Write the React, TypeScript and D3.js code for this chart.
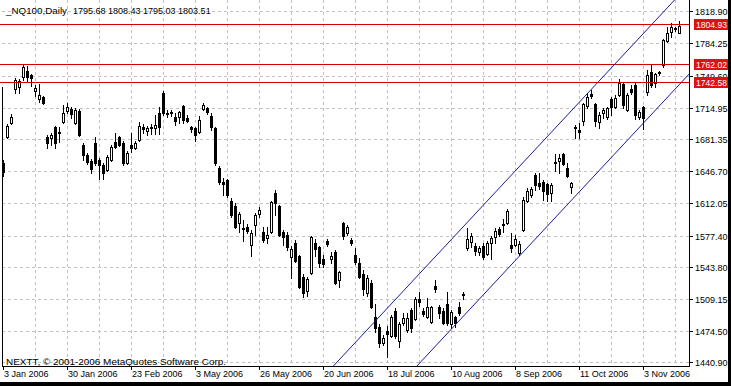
import React from "react";
import * as d3 from "d3";

const width = 731;
const height = 386;
const plot = { left: 2, right: 689, top: 0, bottom: 366 };

const symbolTitle = "_NQ100,Daily";
const lastQuote = ["1795.68", "1808.43", "1795.03", "1803.51"];
const copyright = "NEXTT, \u00a9 2001-2006 MetaQuotes Software Corp.";

// daily OHLC, one entry per bar, oldest first
const opens = [
  1655.5, 1683.5, 1698.6, 1735.2, 1737.3, 1748.1, 1754.5, 1750.2, 1733.0, 1724.4,
  1726.5, 1683.5, 1682.4, 1694.2, 1688.9, 1699.6, 1711.5, 1713.6, 1698.6, 1711.5,
  1674.9, 1664.1, 1657.6, 1677.0, 1658.7, 1653.3, 1647.9, 1658.7, 1678.1, 1683.5,
  1677.0, 1655.5, 1674.9, 1671.6, 1680.2, 1694.2, 1689.9, 1694.2, 1693.2, 1709.3,
  1730.9, 1709.3, 1710.4, 1705.0, 1705.0, 1716.9, 1703.9, 1694.2, 1693.2, 1688.9,
  1713.6, 1714.7, 1706.1, 1693.2, 1650.1, 1635.0, 1637.2, 1614.6, 1609.2, 1590.9,
  1585.5, 1586.6, 1567.2, 1588.7, 1600.6, 1581.2, 1574.7, 1581.2, 1623.2, 1609.2,
  1581.2, 1577.9, 1554.3, 1569.3, 1555.3, 1532.7, 1517.7, 1537.0, 1569.3, 1565.0,
  1552.1, 1571.5, 1552.1, 1559.6, 1529.5, 1590.9, 1580.1, 1572.6, 1556.4, 1547.8,
  1536.0, 1515.5, 1526.3, 1489.6, 1478.9, 1461.7, 1474.6, 1469.2, 1496.1, 1463.8,
  1483.2, 1475.7, 1497.2, 1487.5, 1509.0, 1496.1, 1489.6, 1484.3, 1523.0, 1500.4,
  1496.1, 1503.7, 1482.1, 1489.6, 1500.4, 1514.4, 1564.0, 1570.4, 1566.1, 1559.6,
  1566.1, 1557.5, 1569.3, 1575.8, 1584.4, 1589.8, 1590.9, 1567.2, 1567.2, 1558.6,
  1583.3, 1614.6, 1621.0, 1642.6, 1633.9, 1635.0, 1632.9, 1623.2, 1656.6, 1657.6,
  1665.2, 1650.1, 1629.6, 1694.2, 1691.0, 1700.7, 1716.9, 1729.8, 1719.0, 1699.6,
  1709.3, 1705.0, 1724.4, 1715.8, 1728.7, 1740.5, 1712.6, 1735.2, 1739.5, 1705.0,
  1715.8, 1731.9, 1753.5, 1741.6, 1753.5, 1761.0, 1786.9, 1796.5, 1800.8, 1795.68,
];
const highs = [
  1658.7, 1697.5, 1708.2, 1747.0, 1745.9, 1761.0, 1759.9, 1751.3, 1739.5, 1740.5,
  1727.6, 1685.6, 1687.8, 1695.3, 1694.2, 1717.9, 1720.1, 1715.8, 1714.7, 1713.6,
  1677.0, 1666.2, 1659.8, 1683.5, 1660.9, 1655.5, 1664.1, 1674.9, 1687.8, 1684.6,
  1679.2, 1668.4, 1687.8, 1679.2, 1699.6, 1697.5, 1695.3, 1697.5, 1707.2, 1715.8,
  1733.0, 1712.6, 1712.6, 1709.3, 1711.5, 1717.9, 1707.2, 1695.3, 1694.2, 1706.1,
  1720.1, 1715.8, 1709.3, 1694.2, 1652.3, 1639.3, 1638.3, 1617.8, 1612.4, 1602.7,
  1594.1, 1589.8, 1583.3, 1601.6, 1608.1, 1586.6, 1586.6, 1614.6, 1626.4, 1610.3,
  1583.3, 1581.2, 1566.1, 1572.6, 1556.4, 1536.0, 1532.7, 1576.9, 1573.6, 1566.1,
  1556.4, 1573.6, 1559.6, 1561.8, 1539.2, 1591.9, 1588.7, 1574.7, 1564.0, 1553.2,
  1540.3, 1534.9, 1529.5, 1503.7, 1482.1, 1470.3, 1479.9, 1491.8, 1499.3, 1484.3,
  1494.0, 1494.0, 1499.3, 1511.2, 1516.6, 1499.3, 1510.1, 1501.5, 1529.5, 1502.6,
  1499.3, 1516.6, 1497.2, 1490.7, 1505.8, 1516.6, 1585.5, 1580.1, 1569.3, 1566.1,
  1569.3, 1571.5, 1576.9, 1585.5, 1586.6, 1595.2, 1605.9, 1580.1, 1577.9, 1571.5,
  1618.9, 1628.6, 1629.6, 1644.7, 1644.7, 1637.2, 1633.9, 1633.9, 1665.2, 1665.2,
  1666.2, 1655.5, 1635.0, 1696.4, 1698.6, 1720.1, 1730.9, 1734.1, 1720.1, 1710.4,
  1714.7, 1715.8, 1726.5, 1728.7, 1745.9, 1741.6, 1730.9, 1739.5, 1741.6, 1712.6,
  1716.9, 1755.6, 1761.0, 1752.4, 1754.5, 1789.0, 1801.9, 1806.2, 1801.9, 1808.43,
];
const lows = [
  1641.5, 1682.4, 1697.5, 1730.9, 1730.9, 1744.9, 1742.7, 1738.4, 1727.6, 1721.2,
  1719.0, 1671.6, 1674.9, 1671.6, 1678.1, 1698.6, 1709.3, 1703.9, 1697.5, 1684.6,
  1658.7, 1654.4, 1644.7, 1653.3, 1638.3, 1638.3, 1646.9, 1657.6, 1671.6, 1673.8,
  1653.3, 1654.4, 1667.3, 1670.6, 1679.2, 1687.8, 1685.6, 1686.7, 1686.7, 1686.7,
  1707.2, 1705.0, 1706.1, 1696.4, 1698.6, 1698.6, 1699.6, 1688.9, 1679.2, 1687.8,
  1712.6, 1708.2, 1691.0, 1653.3, 1632.9, 1621.0, 1618.9, 1597.3, 1585.5, 1581.2,
  1571.5, 1580.1, 1555.3, 1577.9, 1597.3, 1570.4, 1569.3, 1580.1, 1599.5, 1576.9,
  1567.2, 1561.8, 1531.6, 1548.9, 1520.9, 1511.2, 1512.3, 1536.0, 1555.3, 1543.5,
  1543.5, 1566.1, 1547.8, 1525.2, 1522.0, 1573.6, 1577.9, 1567.2, 1546.7, 1531.6,
  1513.3, 1512.3, 1499.3, 1473.5, 1457.4, 1459.5, 1446.6, 1468.1, 1467.0, 1457.4,
  1481.0, 1473.5, 1473.5, 1486.4, 1501.5, 1490.7, 1488.6, 1483.2, 1516.6, 1488.6,
  1482.1, 1481.0, 1477.8, 1478.9, 1491.8, 1509.0, 1561.8, 1565.0, 1556.4, 1556.4,
  1552.1, 1556.4, 1552.1, 1569.3, 1576.9, 1581.2, 1589.8, 1559.6, 1566.1, 1556.4,
  1582.3, 1613.5, 1618.9, 1626.4, 1627.5, 1615.6, 1614.6, 1614.6, 1646.9, 1644.7,
  1653.3, 1640.4, 1623.2, 1682.4, 1682.4, 1696.4, 1714.7, 1725.5, 1695.3, 1693.2,
  1703.9, 1702.9, 1707.2, 1714.7, 1727.6, 1714.7, 1711.5, 1729.8, 1702.9, 1702.9,
  1692.1, 1728.7, 1737.3, 1737.3, 1750.2, 1758.9, 1785.8, 1791.2, 1797.6, 1795.03,
];
const closes = [
  1645.8, 1695.3, 1705.0, 1744.9, 1743.8, 1758.9, 1748.1, 1747.0, 1736.2, 1728.7,
  1720.1, 1677.0, 1685.6, 1677.0, 1687.8, 1709.3, 1715.8, 1708.2, 1712.6, 1685.6,
  1664.1, 1656.6, 1649.0, 1655.5, 1653.3, 1644.7, 1661.9, 1672.7, 1672.7, 1674.9,
  1655.5, 1666.2, 1671.6, 1677.0, 1695.3, 1692.1, 1693.2, 1693.2, 1696.4, 1694.2,
  1709.3, 1708.2, 1709.3, 1700.7, 1710.4, 1701.8, 1700.7, 1692.1, 1685.6, 1701.8,
  1717.9, 1710.4, 1694.2, 1655.5, 1635.0, 1632.9, 1621.0, 1599.5, 1586.6, 1600.6,
  1584.4, 1582.3, 1580.1, 1599.5, 1604.9, 1572.6, 1577.9, 1613.5, 1612.4, 1577.9,
  1575.8, 1565.0, 1562.9, 1550.0, 1522.0, 1515.5, 1530.6, 1575.8, 1562.9, 1547.8,
  1546.7, 1568.3, 1555.3, 1526.3, 1538.1, 1576.9, 1586.6, 1569.3, 1548.9, 1532.7,
  1519.8, 1531.6, 1500.4, 1477.8, 1461.7, 1467.0, 1471.3, 1489.6, 1469.2, 1482.1,
  1488.6, 1488.6, 1477.8, 1509.0, 1505.8, 1492.9, 1500.4, 1500.4, 1519.8, 1494.0,
  1483.2, 1483.2, 1495.0, 1483.2, 1494.0, 1513.3, 1573.6, 1576.9, 1560.7, 1564.0,
  1554.3, 1569.3, 1574.7, 1582.3, 1579.0, 1588.7, 1603.8, 1564.0, 1573.6, 1568.3,
  1615.6, 1625.3, 1627.5, 1631.8, 1630.7, 1625.3, 1622.1, 1631.8, 1655.5, 1660.9,
  1654.4, 1641.5, 1633.9, 1693.2, 1688.9, 1719.0, 1726.5, 1727.6, 1700.7, 1707.2,
  1712.6, 1714.7, 1715.8, 1725.5, 1741.6, 1717.9, 1728.7, 1731.9, 1707.2, 1710.4,
  1703.9, 1750.2, 1739.5, 1751.3, 1752.4, 1787.9, 1795.5, 1801.9, 1799.8, 1803.51,
];

const dateLabels = [
  "3 Jan 2006", "30 Jan 2006", "23 Feb 2006", "3 May 2006", "26 May 2006", "20 Jun 2006",
  "18 Jul 2006", "10 Aug 2006", "8 Sep 2006", "11 Oct 2006", "3 Nov 2006",
];
const dateLabelBars = [0, 16, 32, 48, 64, 80, 96, 112, 128, 144, 160];

const priceTicks = [
  1818.9, 1784.25, 1749.6, 1714.95, 1681.35, 1646.7, 1612.05, 1577.4, 1543.8, 1509.15, 1474.5, 1440.9,
];

// horizontal lines drawn on the chart
const levels = [1804.93, 1762.02, 1742.58];

// equidistant channel: two points of the upper edge (bar, price) and the width in price
const channelBars = [83.1, 166.6];
const channelPrices = [1439.8, 1825.6];
const channelWidth = 96.5;

const font = "'Liberation Sans', Arial, sans-serif";
const gridColor = "#c0c0c0";
const levelColor = "#d00000";
const channelColor = "#1c1ca0";

const xScale = d3.scaleLinear().domain([0, 171.5]).range([3.5, 689.5]);
const yScale = d3.scaleLinear().domain([1440.9, 1818.9]).range([362.3, 11.26]);

export default function App() {
  const col = (i: number) => Math.floor(xScale(i));
  const row = (p: number) => Math.round(yScale(p));

  const candles = opens.map((o, i) => ({ i, o, h: highs[i], l: lows[i], c: closes[i] }));

  const slope = (channelPrices[1] - channelPrices[0]) / (channelBars[1] - channelBars[0]);
  const upper: [number, number][] = [60, 200].map(b => [b, channelPrices[0] + (b - channelBars[0]) * slope]);
  const lower: [number, number][] = upper.map(([b, p]) => [b, p - channelWidth]);
  const line = d3.line<[number, number]>().x(d => xScale(d[0])).y(d => yScale(d[1]));

  const vGrid = d3.range(8, 172, 8);

  return (
    <svg width={width} height={height} style={{ position: "absolute", left: 0, top: 0 }}
      fontFamily={font} fontSize={9}>
      <defs>
        <clipPath id="plotClip">
          <rect x={plot.left} y={plot.top} width={plot.right - plot.left} height={plot.bottom - plot.top} />
        </clipPath>
      </defs>
      <rect x={0} y={0} width={width} height={height} fill="white" />

      {/* grid */}
      <g stroke={gridColor} strokeDasharray="3,3" shapeRendering="crispEdges">
        {vGrid.map(b => (
          <line key={"v" + b} x1={col(b) + 0.5} x2={col(b) + 0.5} y1={plot.top} y2={plot.bottom} />
        ))}
        {priceTicks.map(t => (
          <line key={"h" + t} x1={plot.left} x2={plot.right} y1={row(t) + 0.5} y2={row(t) + 0.5} />
        ))}
      </g>

      {/* candles */}
      <g shapeRendering="crispEdges" clipPath="url(#plotClip)">
        {candles.map(d => {
          const x = col(d.i);
          const top = row(Math.max(d.o, d.c));
          const bot = row(Math.min(d.o, d.c));
          const bull = d.c > d.o;
          return (
            <g key={d.i}>
              <line x1={x + 0.5} x2={x + 0.5} y1={row(d.h)} y2={row(d.l) + 1} stroke="black" />
              {bull ? (
                <rect x={x - 0.5} y={top + 0.5} width={2} height={Math.max(bot - top, 1)}
                  fill="white" stroke="black" />
              ) : (
                <rect x={x - 1} y={top} width={3} height={Math.max(bot - top + 1, 1)} fill="black" />
              )}
            </g>
          );
        })}
      </g>

      {/* horizontal levels */}
      <g stroke={levelColor} shapeRendering="crispEdges">
        {levels.map(p => (
          <line key={p} x1={0} x2={plot.right} y1={row(p) + 0.5} y2={row(p) + 0.5} />
        ))}
      </g>

      {/* channel */}
      <g clipPath="url(#plotClip)" fill="none" stroke={channelColor}>
        <path d={line(upper) || ""} />
        <path d={line(lower) || ""} />
      </g>

      {/* axes */}
      <g stroke="black" shapeRendering="crispEdges">
        <line x1={plot.left + 0.5} x2={plot.left + 0.5} y1={87} y2={plot.bottom + 1} />
        <line x1={plot.right + 0.5} x2={plot.right + 0.5} y1={0} y2={plot.bottom + 1} />
        <line x1={plot.left} x2={plot.right + 1} y1={plot.bottom + 0.5} y2={plot.bottom + 0.5} />
        {priceTicks.map(t => (
          <line key={"yt" + t} x1={plot.right} x2={plot.right + 4} y1={row(t) + 0.5} y2={row(t) + 0.5} />
        ))}
        {dateLabelBars.map(b => (
          <line key={"xt" + b} x1={col(b) + 0.5} x2={col(b) + 0.5} y1={plot.bottom} y2={plot.bottom + 4} />
        ))}
      </g>

      {/* price labels */}
      <g fill="black">
        {priceTicks.map(t => (
          <text key={"yl" + t} x={plot.right + 6} y={row(t) + 0.5} dy="0.35em">
            {t.toFixed(2)}
          </text>
        ))}
      </g>

      {/* level labels */}
      {levels.map(p => (
        <g key={"lb" + p}>
          <rect x={694} y={row(p) - 5} width={40} height={11} fill="#e01010" />
          <text x={696} y={row(p) + 0.5} dy="0.35em" fill="white"
            textLength={31} lengthAdjust="spacingAndGlyphs">{p.toFixed(2)}</text>
        </g>
      ))}

      {/* date labels */}
      {dateLabelBars.map((b, k) => (
        <text key={"xl" + b} x={col(b) + 1} y={377}>{dateLabels[k]}</text>
      ))}

      <text x={6} y={14} textLength={61} lengthAdjust="spacingAndGlyphs">{symbolTitle}</text>
      <text x={73} y={14} style={{ whiteSpace: "pre" }}>{lastQuote.join(" ")}</text>
      <text x={6} y={365} textLength={220} lengthAdjust="spacingAndGlyphs">{copyright}</text>

      {/* outer frame */}
      <rect x={728} y={0} width={3} height={height} fill="black" />
      <rect x={0} y={382} width={width} height={4} fill="black" />
    </svg>
  );
}
